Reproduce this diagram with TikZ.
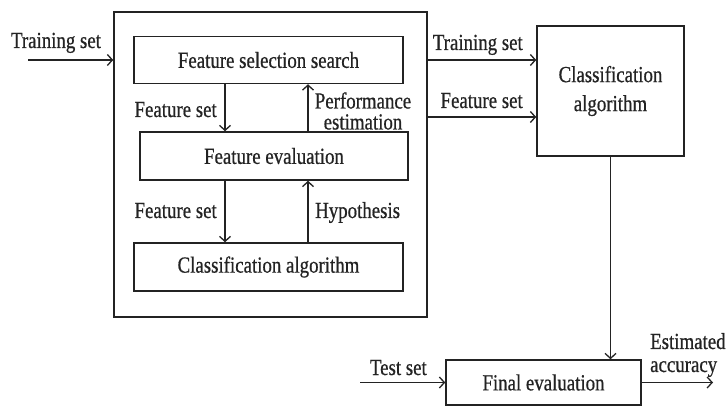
\documentclass[tikz,border=0pt]{standalone}
\usepackage{fontspec}
\setmainfont{Liberation Serif}[FakeStretch=0.82,FakeBold=0.6]
\usetikzlibrary{arrows.meta}
\definecolor{ink}{RGB}{35,35,35}
\tikzset{
 blk/.style={draw=ink,line width=1.5pt,inner sep=0pt,align=center,text=ink,font=\fontsize{23}{28}\selectfont},
 arr/.style={draw=ink,line width=1.4pt,-{Straight Barb[length=5pt,width=11pt,line width=1.3pt]}},
 lbl/.style={inner sep=0pt,text=ink,font=\fontsize{23}{28}\selectfont},
}
\begin{document}
\begin{tikzpicture}[x=1pt,y=-1pt]
\useasboundingbox[fill=white] (0,0) rectangle (728,406);
% boxes
\node[blk,minimum width=313pt,minimum height=305pt] (outer) at (270.5,164.5) {};
\node[blk,minimum width=269pt,minimum height=47pt] (fss) at (268.5,60) {Feature selection search};
\node[blk,minimum width=268pt,minimum height=48pt] (fe) at (274,156) {Feature evaluation};
\node[blk,minimum width=269pt,minimum height=48pt] (cain) at (268.5,267) {Classification algorithm};
\node[blk,minimum width=147pt,minimum height=130pt,font=\fontsize{23}{29}\selectfont] (caout) at (610.5,91) {Classification\\algorithm};
\node[blk,minimum width=195pt,minimum height=45pt] (fin) at (543.5,382.5) {Final evaluation};
% helper coordinates
\coordinate (xl) at (225,0);
\coordinate (xr) at (308,0);
\coordinate (tin) at (28,60);
\coordinate (y1) at (0,60);
\coordinate (y2) at (0,117);
\coordinate (testin) at (360,382.5);
\coordinate (accout) at (713,382.5);
% connectors
\draw[arr] (tin) -- (tin -| outer.west);
\draw[arr] (fss.south -| xl) -- (fe.north -| xl);
\draw[arr] (fe.north -| xr) -- (fss.south -| xr);
\draw[arr] (fe.south -| xl) -- (cain.north -| xl);
\draw[arr] (cain.north -| xr) -- (fe.south -| xr);
\draw[arr] (outer.east |- y1) -- (caout.west |- y1);
\draw[arr] (outer.east |- y2) -- (caout.west |- y2);
\draw[arr] (caout.south) -- (fin.north -| caout.south);
\draw[arr] (testin) -- (fin.west);
\draw[arr] (fin.east) -- (accout);
% labels
\node[lbl,anchor=base] (l1) at (56,48) {Training set};
\node[lbl,anchor=base east] (l2) at (523,50) {Training set};
\node[lbl,anchor=base east] (l3) at (523,108) {Feature set};
\node[lbl,anchor=base east] (l4) at (217,117) {Feature set};
\node[lbl,align=center,font=\fontsize{23}{21}\selectfont] (l5) at (363,111) {Performance\\estimation};
\node[lbl,anchor=base east] (l6) at (217,218) {Feature set};
\node[lbl,anchor=base west] (l7) at (315,218) {Hypothesis};
\node[lbl,anchor=base east] (l8) at (427,375) {Test set};
\node[lbl,align=left,anchor=west,font=\fontsize{23}{23}\selectfont] (l9) at (650,355) {Estimated\\accuracy};
\end{tikzpicture}
\end{document}
